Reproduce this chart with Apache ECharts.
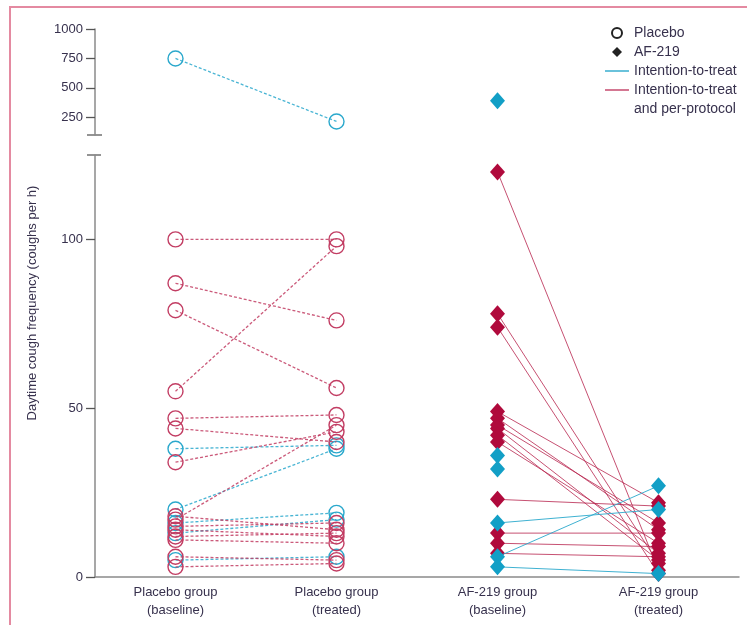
<!DOCTYPE html>
<html>
<head>
<meta charset="utf-8">
<script src="https://cdn.jsdelivr.net/npm/echarts@6/dist/echarts.min.js"></script>
<style>
  html, body { margin: 0; padding: 0; background: #fff; }
  #chart { width: 747px; height: 625px; }
</style>
</head>
<body>
<div id="chart"></div>
<script>
// categories on the x axis
const categories = [
  "Placebo group\n(baseline)",
  "Placebo group\n(treated)",
  "AF-219 group\n(baseline)",
  "AF-219 group\n(treated)",
];

// upper (broken) axis values
const placeboIttHighBase = [750];
const placeboIttHighTreated = [215];
const afIttHighBase = [390];

// placebo, intention-to-treat only (blue)
const placeboIttBase = [38, 20, 16, 13, 5];
const placeboIttTreated = [39, 38, 19, 17, 6];

// placebo, intention-to-treat and per-protocol (red)
const placeboPpBase = [100, 87, 79, 55, 47, 44, 34, 17, 18, 15, 14, 12, 11, 6, 3];
const placeboPpTreated = [100, 76, 56, 98, 48, 40, 43, 45, 14, 16, 12, 13, 10, 5, 4];

// AF-219, intention-to-treat only (blue)
const afIttBase = [16, 6, 3];
const afIttTreated = [20, 27, 1];
const afIttBaseOnly = [36, 32];

// AF-219, intention-to-treat and per-protocol (red)
const afPpBase = [120, 78, 74, 49, 47, 45, 44, 42, 40, 23, 13, 10, 7];
const afPpTreated = [2, 4, 1, 22, 14, 16, 7, 5, 10, 21, 13, 9, 6];

const upperTicks = [250, 500, 750, 1000];
const lowerTicks = [0, 50, 100];

const BLUE = "#2aa8cc";
const BLUE_DARK = "#129fc6";
const RED = "#c23d63";
const RED_DARK = "#b00a3c";
const TEXT = "#37314d";
const AXIS = "#8a8a8a";
const FONT = "'Liberation Sans', Arial, sans-serif";
const GRID_LEFT = 95;
const LINE_ICON = "path://M0,0H24V1.4H0Z";

const chart = echarts.init(document.getElementById("chart"), null, { renderer: "canvas" });

// one small line series per patient pair
function pairSeries(base, treated, from, axis, style) {
  return base.map((b, i) => ({
    type: "line",
    xAxisIndex: axis,
    yAxisIndex: axis,
    data: [[categories[from], b], [categories[from + 1], treated[i]]],
    symbol: style.symbol,
    symbolSize: style.size,
    itemStyle: style.item,
    lineStyle: style.line,
    z: style.z,
    silent: true,
  }));
}

const placeboBlue = {
  symbol: "circle", size: 15, z: 3,
  item: { color: "rgba(0,0,0,0)", borderColor: BLUE, borderWidth: 1.4 },
  line: { color: BLUE, width: 1.3, type: [3, 2], opacity: 0.85 },
};
const placeboRed = {
  symbol: "circle", size: 15, z: 4,
  item: { color: "rgba(0,0,0,0)", borderColor: RED, borderWidth: 1.4 },
  line: { color: RED, width: 1.3, type: [3, 2], opacity: 0.85 },
};
const afBlue = {
  symbol: "diamond", size: [15, 17], z: 5,
  item: { color: BLUE_DARK, borderWidth: 0 },
  line: { color: BLUE, width: 1, opacity: 0.9 },
};
const afRed = {
  symbol: "diamond", size: [15, 17], z: 4,
  item: { color: RED_DARK, borderWidth: 0 },
  line: { color: "#b8264f", width: 1, opacity: 0.8 },
};

const series = [
  ...pairSeries(placeboIttHighBase, placeboIttHighTreated, 0, 0, placeboBlue),
  {
    type: "scatter", xAxisIndex: 0, yAxisIndex: 0, silent: true, z: 5,
    data: afIttHighBase.map((v) => [categories[2], v]),
    symbol: "diamond", symbolSize: [15, 17], itemStyle: { color: BLUE_DARK, opacity: 1 },
  },
  ...pairSeries(placeboIttBase, placeboIttTreated, 0, 1, placeboBlue),
  ...pairSeries(placeboPpBase, placeboPpTreated, 0, 1, placeboRed),
  ...pairSeries(afPpBase, afPpTreated, 2, 1, afRed),
  ...pairSeries(afIttBase, afIttTreated, 2, 1, afBlue),
  {
    type: "scatter", xAxisIndex: 1, yAxisIndex: 1, silent: true, z: 5,
    data: afIttBaseOnly.map((v) => [categories[2], v]),
    symbol: "diamond", symbolSize: [15, 17], itemStyle: { color: BLUE_DARK, opacity: 1 },
  },
  // legend-only series
  { name: "Placebo", type: "scatter", data: [], xAxisIndex: 1, yAxisIndex: 1,
    symbol: "circle", itemStyle: { color: "rgba(0,0,0,0)", borderColor: "#222", borderWidth: 1.3, opacity: 1 } },
  { name: "AF-219", type: "scatter", data: [], xAxisIndex: 1, yAxisIndex: 1,
    symbol: "path://M0,-1L1,0L0,1L-1,0Z", itemStyle: { color: "#222", opacity: 1 } },
  { name: "Intention-to-treat", type: "scatter", data: [], xAxisIndex: 1, yAxisIndex: 1,
    itemStyle: { color: BLUE, opacity: 1 } },
  { name: "Intention-to-treat ", type: "scatter", data: [], xAxisIndex: 1, yAxisIndex: 1,
    itemStyle: { color: RED, opacity: 1 } },
  { name: "and per-protocol", type: "scatter", data: [], xAxisIndex: 1, yAxisIndex: 1 },
];

const option = {
  animation: false,
  backgroundColor: "#fff",
  textStyle: { fontFamily: FONT },
  legend: {
    orient: "vertical",
    left: 600,
    top: 21,
    itemWidth: 24,
    itemHeight: 10,
    itemGap: 5,
    selectedMode: false,
    symbolKeepAspect: true,
    textStyle: { color: TEXT, fontSize: 14, lineHeight: 14, fontFamily: FONT },
    data: [
      { name: "Placebo" },
      { name: "AF-219" },
      { name: "Intention-to-treat", icon: LINE_ICON },
      { name: "Intention-to-treat ", icon: LINE_ICON },
      { name: "and per-protocol", icon: "none" },
    ],
  },
  grid: [
    { left: GRID_LEFT, right: 8, top: 29, height: 106 },
    { left: GRID_LEFT, right: 8, top: 155, bottom: 48 },
  ],
  xAxis: [
    { gridIndex: 0, type: "category", data: categories, show: false },
    {
      gridIndex: 1,
      type: "category",
      data: categories,
      axisLine: { lineStyle: { color: AXIS, width: 1.5 } },
      axisTick: { length: 5, lineStyle: { color: "#666", width: 1.2 } },
      axisLabel: { color: TEXT, fontSize: 13, lineHeight: 18, margin: 6, fontFamily: FONT },
    },
  ],
  yAxis: [
    {
      gridIndex: 0,
      type: "value",
      min: 100,
      max: 1000,
      splitLine: { show: false },
      axisLine: { show: true, lineStyle: { color: AXIS, width: 1.5 } },
      axisTick: { show: true, length: 9, customValues: upperTicks, lineStyle: { color: "#555", width: 1.3 } },
      axisLabel: { customValues: upperTicks, formatter: (v) => String(v), color: TEXT, fontSize: 13, margin: 12, fontFamily: FONT },
    },
    {
      gridIndex: 1,
      type: "value",
      min: 0,
      max: 125,
      splitLine: { show: false },
      axisLine: { show: true, lineStyle: { color: AXIS, width: 1.5 } },
      axisTick: { show: true, length: 9, customValues: lowerTicks, lineStyle: { color: "#555", width: 1.3 } },
      axisLabel: { customValues: lowerTicks, formatter: (v) => String(v), color: TEXT, fontSize: 13, margin: 12, fontFamily: FONT },
    },
  ],
  series: series,
};

chart.setOption(option);

// axis-break caps, frame and y-axis title
const capTop = chart.convertToPixel({ yAxisIndex: 0 }, 100);
const capBottom = chart.convertToPixel({ yAxisIndex: 1 }, 125);
const yTop = chart.convertToPixel({ yAxisIndex: 0 }, 1000);
const yZero = chart.convertToPixel({ yAxisIndex: 1 }, 0);

chart.setOption({
  graphic: [
    {
      type: "rect", z: -10, silent: true,
      shape: { x: 10, y: 7, width: 800, height: 700 },
      style: { fill: null, stroke: "#e48aa1", lineWidth: 2 },
    },
    {
      type: "line", silent: true,
      shape: { x1: GRID_LEFT - 8, y1: capTop, x2: GRID_LEFT + 7, y2: capTop },
      style: { stroke: "#666", lineWidth: 1.4 },
    },
    {
      type: "line", silent: true,
      shape: { x1: GRID_LEFT - 8, y1: capBottom, x2: GRID_LEFT + 6, y2: capBottom },
      style: { stroke: "#666", lineWidth: 1.4 },
    },
    {
      type: "text", silent: true,
      x: 32, y: (yTop + yZero) / 2, rotation: Math.PI / 2,
      style: {
        text: "Daytime cough frequency (coughs per h)",
        fill: TEXT, font: "13px " + FONT,
        align: "center", verticalAlign: "middle",
      },
    },
  ],
});
</script>
</body>
</html>
